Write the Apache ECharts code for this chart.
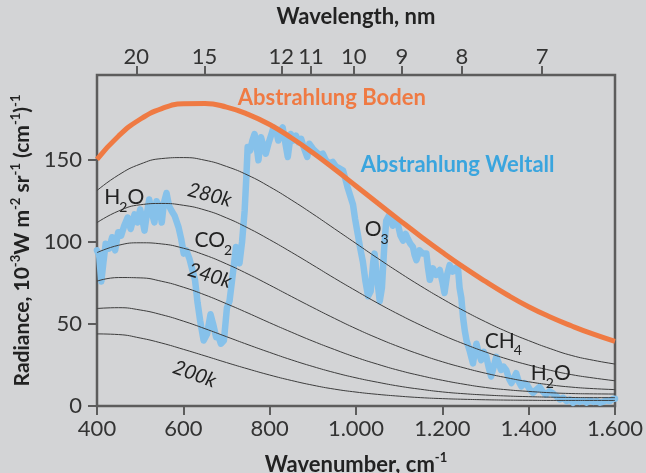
<!DOCTYPE html>
<html>
<head>
<meta charset="utf-8">
<script src="https://cdn.jsdelivr.net/npm/echarts@6/dist/echarts.min.js"></script>
<style>
html,body{margin:0;padding:0;background:#d3d4d6;}
#c{width:646px;height:473px;}
</style>
</head>
<body>
<div id="c"></div>
<script>
// ---------- data ----------
const wn = [400,450,500,550,600,650,700,750,800,850,900,950,1000,1050,1100,1150,1200,1250,1300,1350,1400,1450,1500,1550,1600];
const ground = [150.5,164.8,175.0,181.5,184.4,184.6,182.4,178.0,171.8,163.7,154.5,144.6,134.3,123.9,113.6,103.5,93.8,84.6,76.0,67.9,60.6,54.3,48.8,43.8,39.4];
const k300 = [131.5,141.0,147.6,151.0,151.6,150.0,146.2,140.8,133.8,125.8,117.2,108.2,99.2,90.2,81.5,73.2,65.4,58.1,51.4,45.3,39.9,35.0,30.8,27.9,25.6];
const k280 = [111.9,119.0,122.8,123.6,122.5,119.6,114.8,108.6,101.5,93.9,86.0,78.0,70.3,62.8,55.8,49.3,43.3,37.9,33.0,28.7,25.0,21.8,19.1,17.1,15.4];
const k260 = [93.6,98.1,99.6,98.9,96.3,92.1,86.7,80.5,73.8,66.9,60.1,53.5,47.2,41.4,36.1,31.3,27.0,23.3,20.0,17.2,14.8,12.9,11.5,10.6,10.0];
const k240 = [76.2,78.4,78.2,76.1,72.5,67.8,62.4,56.7,50.8,45.1,39.6,34.5,29.7,25.5,21.7,18.5,15.7,13.3,11.3,9.9,8.9,8.1,7.6,7.4,7.3];
const k220 = [59.5,60.0,58.6,55.7,51.8,47.2,42.3,37.4,32.7,28.2,24.1,20.4,17.2,14.5,12.1,10.2,8.6,7.5,6.7,6.1,5.7,5.4,5.2,5.1,5.1];
const k200 = [44.0,43.6,41.5,38.4,34.6,30.6,26.5,22.6,18.9,15.6,12.7,10.3,8.5,7.1,6.0,5.1,4.5,4.1,3.8,3.6,3.5,3.4,3.4,3.4,3.4];

const spaceWn = [400,405,410,415,420,428,435,442,449,456,463,471,478,487,494,500,505,510,516,521,527,533,538,545,550,555,561,567,573,580,589,595,601,607,614,620,627,633,639,647,655,663,669,676,682,687,694,701,707,713,718,722,726,730,736,742,746,749,755,760,765,770,774,780,786,791,797,803,809,815,820,825,830,836,842,849,855,861,867,873,880,887,892,900,908,915,923,930,938,946,954,962,970,976,981,987,993,998,1004,1010,1016,1022,1028,1034,1040,1043,1048,1055,1060,1065,1070,1078,1085,1091,1097,1103,1109,1115,1120,1126,1132,1136,1140,1147,1155,1163,1167,1171,1178,1186,1194,1200,1205,1211,1217,1224,1230,1236,1240,1244,1248,1252,1256,1263,1267,1271,1275,1279,1285,1290,1296,1302,1307,1313,1319,1325,1331,1336,1342,1348,1354,1360,1366,1371,1377,1383,1390,1396,1403,1410,1418,1425,1432,1440,1448,1456,1464,1472,1480,1488,1496,1503,1510,1518,1526,1534,1542,1550,1558,1565,1572,1580,1588,1596,1600];
const spaceVal = [95,92,76,88,99,96,103,95,106,104,110,115,108,117,112,120,114,107,118,126,118,112,125,121,112,124,130,122,119,116,109,102,93,95,90,84,77,63,52,40,44,56,50,42,42,38,40,60,64,77,88,97,92,87,100,119,140,158,156,162,166,158,150,164,158,154,160,165,170,168,162,168,170,161,152,166,162,165,161,163,157,152,160,157,155,153,154,150,148,149,146,145,143.7,138,133,128,123,114,105,96,88,76,67,70,88,93,80,64,72,95,113,117,110,113,111,104,101,105,102,99,97,92,89,95,93,93,84,77,84,80,83,76,69,80,86,82,84,85,72,66,54,46,40,34,30,26,33,38,32,28,33,30,24,18,24,30,26,22,24,22,17,14,17,20,15,12,14,13,10,8,10,11.6,9,7,9,7.7,6,4,5,3,4,2,3.5,2.5,3.5,2,3.5,2.5,3,2,2.5,3.5,3,4.5,4.5];

const yTicks = [0,50,100,150];
const topTickLabels = [20,15,12,11,10,9,8,7];
const topTickPos = [491,649,827,896,995,1106,1245,1431];

// ---------- chart ----------
const FONT = 'Lato, "Open Sans", sans-serif';
const chart = echarts.init(document.getElementById('c'), null, {renderer:'canvas'});
const pair = arr => wn.map((x,i)=>[x,arr[i]]);
const thin = (name, arr) => ({
  name, type:'line', data:pair(arr), smooth:true, symbol:'none', z:3,
  lineStyle:{color:'#3d3d3d', width:1}, silent:true
});
const nameRich = (fs, sfs) => ({
  m:{fontFamily:FONT, fontWeight:'bold', fontSize:fs, color:'#222', lineHeight:fs+5},
  s:{fontFamily:FONT, fontWeight:'bold', fontSize:sfs, color:'#222', lineHeight:sfs, verticalAlign:'top'}
});

chart.setOption({
  animation:false,
  backgroundColor:'#d3d4d6',
  grid:{left:97, right:31, top:75, bottom:67, containLabel:false, outerBoundsMode:'none',
        show:true, borderColor:'#5c5c5c', borderWidth:2.5, backgroundColor:'transparent'},
  xAxis:[{
    type:'value', min:400, max:1600, interval:200, position:'bottom',
    axisLine:{show:false}, splitLine:{show:false},
    axisTick:{show:true, inside:false, length:9, lineStyle:{color:'#5c5c5c', width:2}},
    axisLabel:{margin:12, fontFamily:FONT, fontSize:22, color:'#333',
      formatter:v => v>=1000 ? String(v).replace(/(\d)(\d{3})$/,'$1.$2') : String(v)},
    name:'{m|Wavenumber, cm}{s|-1}', nameLocation:'middle', nameGap:45,
    nameTextStyle:{fontFamily:FONT, fontWeight:'bold', fontSize:22, color:'#222', rich:nameRich(22,13)}
  },{
    type:'value', min:400, max:1600, position:'top',
    axisLine:{show:false}, splitLine:{show:false},
    axisTick:{show:true, length:9, customValues:topTickPos, lineStyle:{color:'#5c5c5c', width:2}},
    axisLabel:{margin:7, fontFamily:FONT, fontSize:22, color:'#333', customValues:topTickPos,
      formatter:v => { let b=0; topTickPos.forEach((p,i)=>{ if(Math.abs(p-v)<Math.abs(topTickPos[b]-v)) b=i; }); return String(topTickLabels[b]); }},
    name:'Wavelength, nm', nameLocation:'middle', nameGap:47,
    nameTextStyle:{fontFamily:FONT, fontWeight:'bold', fontSize:22, color:'#222'}
  }],
  yAxis:{
    type:'value', min:0, max:202,
    axisLine:{show:false}, splitLine:{show:false},
    axisTick:{show:true, length:9, customValues:yTicks, lineStyle:{color:'#5c5c5c', width:2}},
    axisLabel:{margin:15, fontFamily:FONT, fontSize:22, color:'#333', customValues:yTicks},
    name:'{m|Radiance, 10}{s|-3}{m|W m}{s|-2}{m| sr}{s|-1}{m| (cm}{s|-1}{m|)}{s|-1}',
    nameLocation:'middle', nameGap:62, nameRotate:90,
    nameTextStyle:{fontFamily:FONT, fontWeight:'bold', fontSize:21, color:'#222', rich:nameRich(21,13)}
  },
  series:[
    {name:'Abstrahlung Weltall', type:'line', z:2, symbol:'none', smooth:false, silent:true,
     data:spaceWn.map((x,i)=>[x,spaceVal[i]]),
     lineStyle:{color:'#86c1ea', width:6.5, join:'round', cap:'round'}},
    thin('300K',k300), thin('280K',k280), thin('260K',k260),
    thin('240K',k240), thin('220K',k220), thin('200K',k200),
    {name:'Abstrahlung Boden', type:'line', z:4, symbol:'none', smooth:true, silent:true,
     data:pair(ground), lineStyle:{color:'#ef7a43', width:5}}
  ]
});

// ---------- annotations ----------
const ctx = document.createElement('canvas').getContext('2d');
function w(txt, size, weight, style){ ctx.font = (style||'normal')+' '+(weight||'normal')+' '+size+'px '+FONT; return ctx.measureText(txt).width; }
const toPx = (x,y) => chart.convertToPixel({xAxisIndex:0, yAxisIndex:0}, [x,y]);

const chem = [
  {at:[417,127.5], parts:[['H',0],['2',1],['O',0]]},
  {at:[626,101.3], parts:[['CO',0],['2',1]]},
  {at:[1020,108], parts:[['O',0],['3',1]]},
  {at:[1298,39.7], parts:[['CH',0],['4',1]]},
  {at:[1405,20.1], parts:[['H',0],['2',1],['O',0]]}
];
const temps = [
  {at:[661,128.8], text:'280k', rot:-15},
  {at:[661,79.6], text:'240k', rot:-17},
  {at:[626,19.5], text:'200k', rot:-20}
];
const titles = [
  {at:[726,188], text:'Abstrahlung Boden', color:'#ef7a43'},
  {at:[1011,147], text:'Abstrahlung Weltall', color:'#3aa5de'}
];

const g = [];
chem.forEach(c => {
  const p = toPx(c.at[0], c.at[1]);
  let x = p[0];
  c.parts.forEach(([t,sub]) => {
    const fs = sub ? 14 : 21;
    g.push({type:'text', silent:true, z:10, style:{text:t, x:x, y: sub ? p[1]+10 : p[1],
      font:'normal '+fs+'px '+FONT, fill:'#222', textAlign:'left', textVerticalAlign:'middle', align:'left', verticalAlign:'middle'}});
    x += w(t, fs) - (sub ? 0 : 1);
  });
});
temps.forEach(c => {
  const p = toPx(c.at[0], c.at[1]);
  g.push({type:'text', silent:true, z:10, x:p[0], y:p[1], rotation:c.rot*Math.PI/180,
    style:{text:c.text, x:0, y:0, font:'italic normal 20px '+FONT, fill:'#222',
      textAlign:'center', textVerticalAlign:'middle', align:'center', verticalAlign:'middle'}});
});
titles.forEach(c => {
  const p = toPx(c.at[0], c.at[1]);
  g.push({type:'text', silent:true, z:10, style:{text:c.text, x:p[0], y:p[1],
    font:'normal bold 22px '+FONT, fill:c.color, textAlign:'left', textVerticalAlign:'middle', align:'left', verticalAlign:'middle'}});
});
chart.setOption({graphic:g});
</script>
</body>
</html>
